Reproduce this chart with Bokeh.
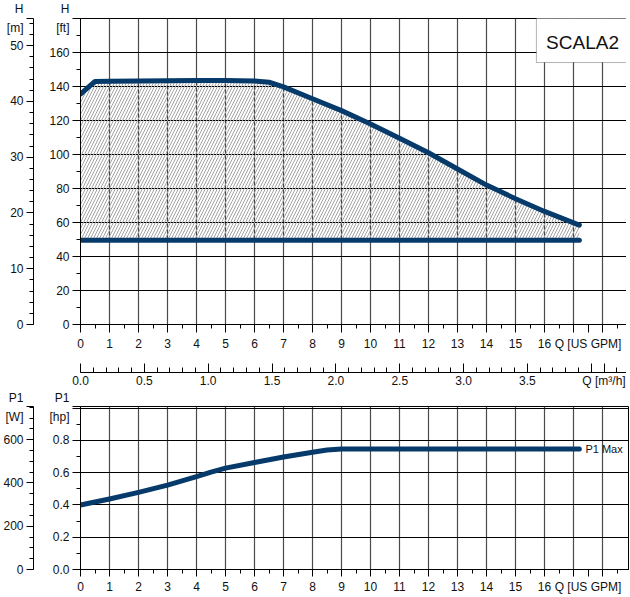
from bokeh.plotting import figure
from bokeh.models import (Range1d, LinearAxis, FixedTicker, Label, BoxAnnotation,
                          PrintfTickFormatter)
from bokeh.layouts import column
from bokeh.embed import file_html
from bokeh.resources import INLINE

# ---------------- data ----------------
GPM_TO_M3H = 0.227125
FT_TO_M = 0.3048
HP_TO_W = 745.7

# max head curve (Q in US GPM, H in ft)
q_max = [0, 0.5, 1, 2, 3, 4, 5, 6, 6.5, 7, 8, 9, 10, 11, 12, 13, 14, 15, 16, 17.2]
h_max = [135.5, 143.0, 143.1, 143.2, 143.4, 143.6, 143.6, 143.3, 142.5, 139.8,
         132.8, 125.8, 118.0, 109.5, 101.0, 91.5, 82.0, 74.0, 66.5, 58.5]
# min head line
q_min = [0, 17.2]
h_min = [49.5, 49.5]

# P1 curve (Q in US GPM, P1 in hp)
q_p1 = [0, 1, 2, 3, 4, 4.5, 5, 6, 7, 8, 8.5, 9, 17.2]
p1_hp = [0.400, 0.437, 0.478, 0.523, 0.575, 0.603, 0.628, 0.663, 0.697, 0.727,
         0.740, 0.747, 0.747]

X_END = 18.93
FT_END = 180
M_END = FT_END * FT_TO_M
HP_END = 1.01
W_END = HP_END * HP_TO_W

GPM_NAME_TICK = 17.5
M3H_NAME_TICK = 4.1

gpm_ticks = list(range(0, 19)) + [GPM_NAME_TICK]
gpm_minor = [i * 0.5 for i in range(0, 38)]
gpm_labels = {17: "", 18: "", GPM_NAME_TICK: "Q [US GPM]"}
gpm_grid = list(range(0, 19))
ft_ticks = list(range(0, 181, 20))
ft_minor = list(range(0, 181, 10))
ft_labels = {180: "H\n[ft]"}
m_ticks = [0, 10, 20, 30, 40, 50, M_END]
m_minor = list(range(0, 55, 2))
m_labels = {M_END: "H\n[m]"}
m3h_ticks = [0.0, 0.5, 1.0, 1.5, 2.0, 2.5, 3.0, 3.5, 4.0, M3H_NAME_TICK]
m3h_minor = [round(i * 0.1, 1) for i in range(0, 44)]
m3h_labels = {4.0: "", M3H_NAME_TICK: "Q [m³/h]"}
hp_ticks = [0.0, 0.2, 0.4, 0.6, 0.8, 1.0, HP_END]
hp_minor = [round(i * 0.1, 1) for i in range(0, 11)]
hp_labels = {1.0: "", HP_END: "P1\n[hp]"}
hp_grid = [0.0, 0.2, 0.4, 0.6, 0.8, 1.0]
w_ticks = [0, 200, 400, 600, W_END]
w_minor = list(range(0, 751, 50))
w_labels = {W_END: "P1\n[W]"}

FONT = "Liberation Sans"
NAVY = "#063a6b"
TICK_FS = "12px"


def style_axis(ax, tick_out=8, minor_out=4, standoff=3):
    ax.major_tick_out = tick_out
    ax.major_tick_in = 0
    ax.minor_tick_out = minor_out
    ax.minor_tick_in = 0
    ax.major_label_standoff = standoff
    ax.major_label_text_font = FONT
    ax.major_label_text_font_size = TICK_FS
    ax.major_label_text_color = "#111111"
    ax.major_label_text_line_height = 1.4
    ax.axis_line_color = "black"
    ax.major_tick_line_color = "black"
    ax.minor_tick_line_color = "black"


def pad_axis(ax, fs, standoff):
    ax.axis_label = " "
    ax.axis_label_text_font_size = fs
    ax.axis_label_standoff = standoff


# ---------------- top chart ----------------
top = figure(frame_width=549, frame_height=306,
             x_range=Range1d(0, X_END), y_range=Range1d(0, FT_END),
             output_backend="svg", toolbar_location=None,
             min_border_left=73, min_border_right=0, min_border_top=18,
             min_border_bottom=60)
top.outline_line_color = "black"
top.background_fill_color = "white"
top.border_fill_color = "white"

xg = top.xaxis[0]
xg.ticker = FixedTicker(ticks=gpm_ticks, minor_ticks=gpm_minor)
xg.major_label_overrides = gpm_labels
style_axis(xg, 8, 4, 4)
pad_axis(xg, "12px", 2)

yft = top.yaxis[0]
yft.ticker = FixedTicker(ticks=ft_ticks, minor_ticks=ft_minor)
yft.major_label_overrides = ft_labels
style_axis(yft, 8, 4, 3)
pad_axis(yft, "8px", 1)

top.extra_y_ranges = {"m": Range1d(0, M_END)}
ym = LinearAxis(y_range_name="m", ticker=FixedTicker(ticks=m_ticks, minor_ticks=m_minor),
                major_label_overrides=m_labels)
style_axis(ym, 7, 4, 3)
top.add_layout(ym, "left")

top.extra_x_ranges = {"m3h": Range1d(0, X_END * GPM_TO_M3H)}
xm = LinearAxis(x_range_name="m3h",
                ticker=FixedTicker(ticks=m3h_ticks, minor_ticks=m3h_minor),
                formatter=PrintfTickFormatter(format="%.1f"),
                major_label_overrides=m3h_labels)
style_axis(xm, 0, 0, 1)
xm.major_tick_in = 9
xm.minor_tick_in = 5
top.add_layout(xm, "below")

top.xgrid[0].ticker = FixedTicker(ticks=gpm_grid)
top.xgrid[0].grid_line_color = "#4a4a4a"
top.xgrid[0].grid_line_width = 1.2
top.ygrid[0].ticker = FixedTicker(ticks=ft_ticks)
top.ygrid[0].grid_line_color = "black"
top.ygrid[0].grid_line_width = 1

# hatched operating area
top.varea(x=q_max, y1=[h_min[0]] * len(q_max), y2=h_max,
          fill_color="white", fill_alpha=0.0,
          hatch_pattern="/", hatch_color="#a3a3a3", hatch_scale=6, hatch_weight=1)
top.line(q_max, h_max, line_color=NAVY, line_width=5, line_cap="round", line_join="round")
top.line(q_min, h_min, line_color=NAVY, line_width=5, line_cap="round")

top.add_layout(BoxAnnotation(left=15.72, right=X_END + 1, bottom=154.1, top=FT_END + 2,
                             fill_color="white", fill_alpha=1.0,
                             line_color="black", line_width=1))
top.add_layout(Label(x=17.31, y=166.0, text="SCALA2", text_align="center",
                     text_baseline="middle", text_font=FONT, text_font_size="19px",
                     text_color="#111111"))

# ---------------- bottom chart ----------------
bot = figure(frame_width=549, frame_height=163,
             x_range=Range1d(0, X_END), y_range=Range1d(0, HP_END),
             output_backend="svg", toolbar_location=None,
             min_border_left=73, min_border_right=0, min_border_top=16,
             min_border_bottom=23)
bot.outline_line_color = "black"
bot.background_fill_color = "white"
bot.border_fill_color = "white"

bx = bot.xaxis[0]
bx.ticker = FixedTicker(ticks=gpm_ticks, minor_ticks=gpm_minor)
bx.major_label_overrides = gpm_labels
style_axis(bx, 7, 4, 3)

yhp = bot.yaxis[0]
yhp.ticker = FixedTicker(ticks=hp_ticks, minor_ticks=hp_minor)
yhp.formatter = PrintfTickFormatter(format="%.1f")
yhp.major_label_overrides = hp_labels
style_axis(yhp, 8, 4, 3)
pad_axis(yhp, "8px", 1)

bot.extra_y_ranges = {"W": Range1d(0, W_END)}
yw = LinearAxis(y_range_name="W", ticker=FixedTicker(ticks=w_ticks, minor_ticks=w_minor),
                major_label_overrides=w_labels)
style_axis(yw, 7, 4, 3)
bot.add_layout(yw, "left")

bot.xgrid[0].ticker = FixedTicker(ticks=gpm_grid)
bot.xgrid[0].grid_line_color = "#4a4a4a"
bot.xgrid[0].grid_line_width = 1.2
bot.ygrid[0].ticker = FixedTicker(ticks=hp_grid)
bot.ygrid[0].grid_line_color = "black"
bot.ygrid[0].grid_line_width = 1

bot.line(q_p1, p1_hp, line_color=NAVY, line_width=5, line_cap="round", line_join="round")
bot.add_layout(Label(x=17.41, y=p1_hp[-1], text="P1 Max", text_align="left",
                     text_baseline="middle", text_font=FONT, text_font_size="11px",
                     text_color="#111111"))

layout = column(top, bot, spacing=0)
open("out.html", "w").write(file_html(layout, INLINE))
